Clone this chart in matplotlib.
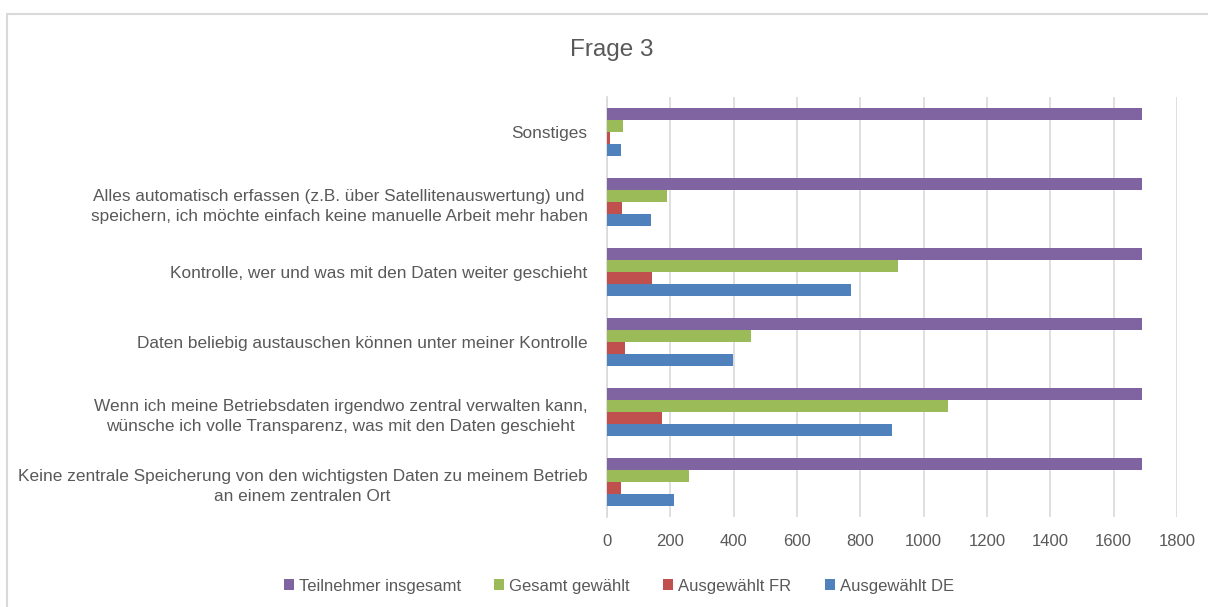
import matplotlib
matplotlib.use("Agg")
import matplotlib.pyplot as plt
import numpy as np
from matplotlib.patches import Rectangle

plt.rcParams["font.family"] = ["Liberation Sans", "DejaVu Sans"]

CATS = ["Keine zentrale Speicherung von den wichtigsten Daten zu meinem Betrieb\nan einem zentralen Ort",
        "Wenn ich meine Betriebsdaten irgendwo zentral verwalten kann,\nwünsche ich volle Transparenz, was mit den Daten geschieht",
        "Daten beliebig austauschen können unter meiner Kontrolle",
        "Kontrolle, wer und was mit den Daten weiter geschieht",
        "Alles automatisch erfassen (z.B. über Satellitenauswertung) und\nspeichern, ich möchte einfach keine manuelle Arbeit mehr haben",
        "Sonstiges"]
TEILNEHMER = [1690, 1690, 1690, 1690, 1690, 1690]
GESAMT = [260, 1076, 456, 918, 188, 52]
FR = [44, 173, 56, 143, 47, 8]
DE = [213, 901, 398, 771, 140, 43]
SERIES = [("Teilnehmer insgesamt", TEILNEHMER, "#8064A2"),
          ("Gesamt gewählt", GESAMT, "#9BBB59"),
          ("Ausgewählt FR", FR, "#C0504D"),
          ("Ausgewählt DE", DE, "#4F81BD")]
TXT = "#595959"

fig = plt.figure(figsize=(12.08, 6.07), dpi=100)
fig.patches.append(Rectangle((7/1208, -0.1), 1.2, 1 - 14/607 + 0.1, transform=fig.transFigure,
                             fill=False, edgecolor="#D9D9D9", linewidth=1.5))
ax = fig.add_axes([607/1208, 1 - 517/607, 570/1208, 420/607])

y = np.arange(len(CATS))
h = 0.17
offs = [1.5*h, 0.5*h, -0.5*h, -1.5*h]
for (name, vals, col), o in zip(SERIES, offs):
    ax.barh(y + o, vals, height=h, color=col, label=name, zorder=3)

ax.set_xlim(0, 1800)
ax.set_ylim(-0.5, 5.5)
ax.set_xticks(np.arange(0, 1801, 200))
ax.xaxis.grid(True, color="#D9D9D9", linewidth=1.2, zorder=0)
ax.set_yticks(y)
ax.set_yticklabels(CATS, multialignment="center", fontsize=12.4, color=TXT, linespacing=1.45)
ax.tick_params(axis="x", length=0, labelsize=12, labelcolor=TXT, pad=12)
ax.tick_params(axis="y", length=0, pad=14)
for s in ["top", "right", "bottom"]:
    ax.spines[s].set_visible(False)
ax.spines["left"].set_color("#D9D9D9")
ax.spines["left"].set_linewidth(1.2)

fig.text(612/1208, 1 - 50/607, "Frage 3", ha="center", va="center", fontsize=17.5, color=TXT)
fig.legend(loc="center", bbox_to_anchor=(619/1208, 1 - 586/607), ncol=4, frameon=False,
           fontsize=12, labelcolor=TXT, handlelength=0.6, handleheight=0.6, handletextpad=0.3,
           columnspacing=2.0)
fig.savefig("out.png", dpi=100)
